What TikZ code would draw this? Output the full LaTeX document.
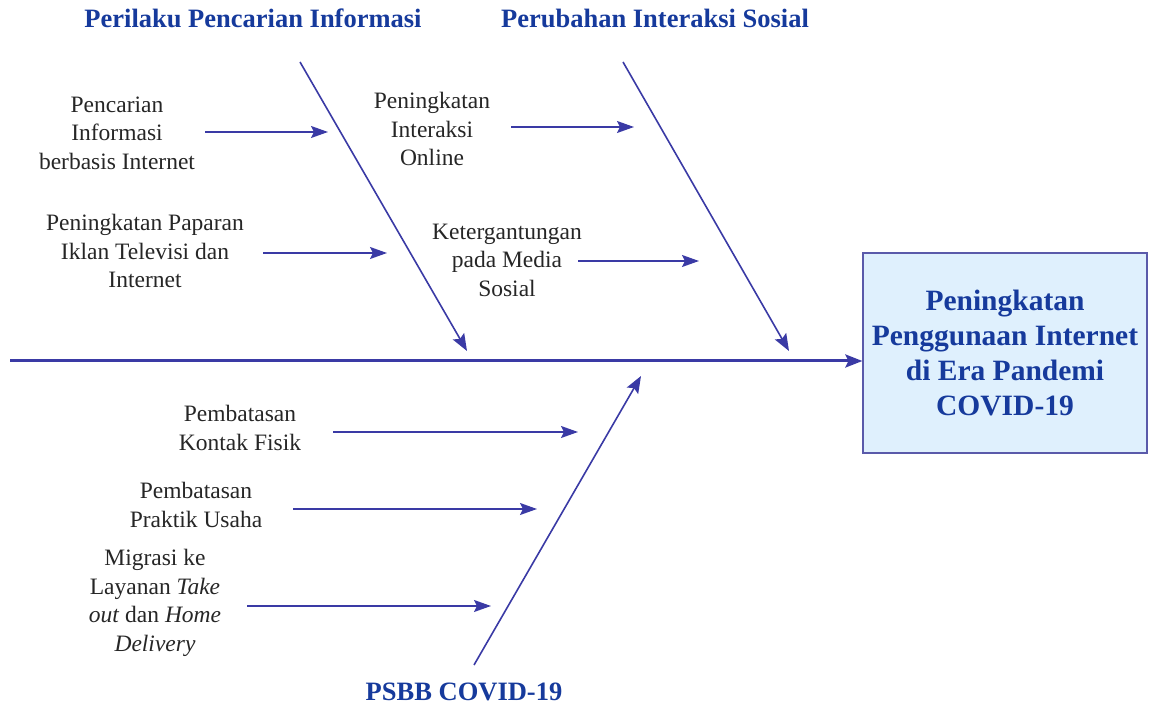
\documentclass[tikz,border=0pt]{standalone}
\usepackage{fontspec}
\setmainfont{Liberation Serif}
\usetikzlibrary{arrows.meta}
\definecolor{linec}{RGB}{58,58,165}
\definecolor{titlec}{RGB}{22,58,156}
\definecolor{boxfill}{RGB}{223,240,253}
\definecolor{boxline}{RGB}{90,90,170}
\tikzset{
  lbl/.style={align=center,inner sep=0pt,font=\fontsize{23.5}{28.5}\selectfont,text=black!85},
  ttl/.style={inner sep=0pt,font=\fontsize{26.5}{30}\selectfont\bfseries,text=titlec},
  bone/.style={draw=linec,line width=1.6pt,-{Stealth[length=17pt,width=13pt,inset=3pt]}},
  sub/.style={draw=linec,line width=1.6pt,-{Stealth[length=17pt,width=12pt,inset=3pt]}},
  spine/.style={draw=linec,line width=3pt,-{Stealth[length=17pt,width=13pt,inset=3pt]}},
  effect/.style={draw=boxline,line width=1.2pt,fill=boxfill,minimum width=284pt,minimum height=200pt,inner sep=0pt,align=center,font=\fontsize{29.5}{35}\selectfont\bfseries,text=titlec}
}
\begin{document}
\begin{tikzpicture}[x=1pt,y=-1pt]
\useasboundingbox (0,0) rectangle (1149,708);
% effect box
\node[effect] (eff) at (1005,353) {Peningkatan\\Penggunaan Internet\\di Era Pandemi\\COVID-19};
% spine
\coordinate (sp0) at (10,361);
\draw[spine] (sp0) -- (eff.west |- sp0);
% titles
\node[ttl] (ti1) at (253,18) {Perilaku Pencarian Informasi};
\node[ttl] (ti2) at (655,18) {Perubahan Interaksi Sosial};
\node[ttl] (ti3) at (464,692) {PSBB COVID-19};
% bones
\coordinate (b1s) at (300,62); \coordinate (b1e) at (467,351);
\coordinate (b2s) at (623,62); \coordinate (b2e) at (789,351);
\coordinate (b3s) at (474,665); \coordinate (b3e) at (641,376);
\draw[bone] (b1s) -- (b1e);
\draw[bone] (b2s) -- (b2e);
\draw[bone] (b3s) -- (b3e);
% causes
\node[lbl] (t1) at (117,133) {Pencarian\\Informasi\\berbasis Internet};
\node[lbl] (t2) at (145,251) {Peningkatan Paparan\\Iklan Televisi dan\\Internet};
\node[lbl] (t3) at (432,129) {Peningkatan\\Interaksi\\Online};
\node[lbl] (t4) at (507,260) {Ketergantungan\\pada Media\\Sosial};
\node[lbl] (t5) at (240,428) {Pembatasan\\Kontak Fisik};
\node[lbl] (t6) at (196,505) {Pembatasan\\Praktik Usaha};
\node[lbl] (t7) at (155,603) {Migrasi ke\\Layanan \textit{Take}\\\textit{out} dan \textit{Home}\\\textit{Delivery}};
% sub arrows
\coordinate (a1s) at (205,132); \coordinate (a1e) at (328,132);
\coordinate (a2s) at (263,253); \coordinate (a2e) at (387,253);
\coordinate (a3s) at (511,127); \coordinate (a3e) at (634,127);
\coordinate (a4s) at (578,261); \coordinate (a4e) at (699,261);
\coordinate (a5s) at (333,432); \coordinate (a5e) at (578,432);
\coordinate (a6s) at (293,509); \coordinate (a6e) at (537,509);
\coordinate (a7s) at (247,606); \coordinate (a7e) at (491,606);
\draw[sub] (a1s) -- (a1e);
\draw[sub] (a2s) -- (a2e);
\draw[sub] (a3s) -- (a3e);
\draw[sub] (a4s) -- (a4e);
\draw[sub] (a5s) -- (a5e);
\draw[sub] (a6s) -- (a6e);
\draw[sub] (a7s) -- (a7e);
\end{tikzpicture}
\end{document}
